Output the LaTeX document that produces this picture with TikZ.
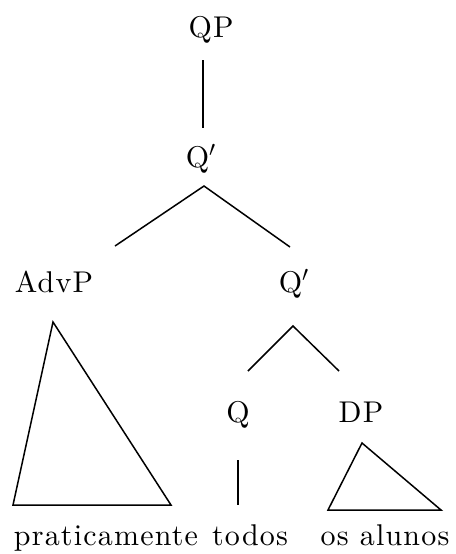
\documentclass[tikz,border=0pt]{standalone}
\usepackage{fontspec}
\newfontfamily\treefont{lmroman10-regular.otf}[LetterSpace=4]
\usetikzlibrary{positioning}

\begin{document}
\begin{tikzpicture}[
  x=0.5pt, y=-0.5pt,
  cat/.style={anchor=base, inner sep=0pt,
              font=\treefont\fontsize{15}{18}\selectfont},
  word/.style={cat},
  branch/.style={line width=0.75pt},
  roof/.style={line width=0.75pt, line join=miter},
]
\useasboundingbox (0,0) rectangle (456,554);

% Categories
\node[cat] (qp)   at (211,37)  {QP};
\node[cat] (q1)   at (201,167) {Q$'$};
\node[cat] (advp) at (54,292)  {AdvP};
\node[cat] (q2)   at (294,292) {Q$'$};
\node[cat] (q)    at (238,422) {Q};
\node[cat] (dp)   at (361,422) {DP};

% Leaves
\node[word] (prat)   at (106,545) {praticamente};
\node[word] (todos)  at (250,545) {todos};
\node[word] (alunos) at (385,545) {os alunos};

% Branch points
\coordinate (qp-b)   at (203,60);
\coordinate (q1-t)   at (203,128);
\coordinate (q1-b)   at (204,186);
\coordinate (advp-t) at (115,246);
\coordinate (q2-t)   at (290,247);
\coordinate (q2-b)   at (293,326);
\coordinate (q-t)    at (248,371);
\coordinate (dp-t)   at (339,371);
\coordinate (q-b)    at (238,460);
\coordinate (todos-t) at (238,505);

% Edges
\draw[branch] (qp-b) -- (q1-t);
\draw[branch] (advp-t) -- (q1-b) -- (q2-t);
\draw[branch] (q-t) -- (q2-b) -- (dp-t);
\draw[branch] (q-b) -- (todos-t);

% Roofs
\draw[roof] (53,322) -- (13,505) -- (171,505) -- cycle;
\draw[roof] (362,443) -- (328,510) -- (441,510) -- cycle;

\end{tikzpicture}
\end{document}
